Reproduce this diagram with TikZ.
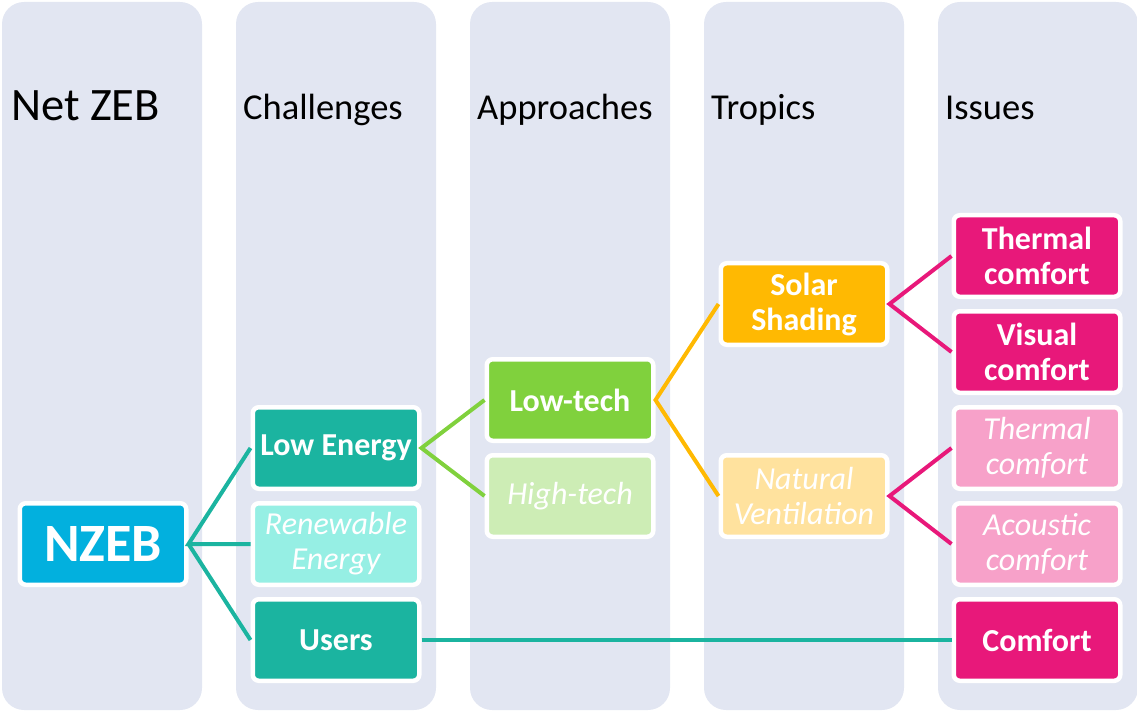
\documentclass[tikz,border=0pt]{standalone}
\usepackage{fontspec}
\setmainfont{Carlito}
\usepackage{tikz}
\usetikzlibrary{positioning,calc}

\definecolor{colbg}{RGB}{226,230,242}
\definecolor{nzebblue}{RGB}{2,176,222}
\definecolor{teal1}{RGB}{27,180,160}
\definecolor{teal2}{RGB}{150,239,228}
\definecolor{green1}{RGB}{128,209,61}
\definecolor{green2}{RGB}{205,237,181}
\definecolor{amber1}{RGB}{255,185,2}
\definecolor{amber2}{RGB}{255,226,158}
\definecolor{pink1}{RGB}{232,24,122}
\definecolor{pink2}{RGB}{247,161,201}

\begin{document}
\begin{tikzpicture}[x=1pt, y=-1pt,
    box/.style={draw=white, line width=4.5pt, rounded corners=6pt, minimum width=166.5pt,
        minimum height=81.5pt, inner sep=1pt, text=white, align=center,
        font=\fontsize{32}{35}\selectfont\bfseries},
    faint/.style={box, font=\fontsize{32}{35}\selectfont\itshape},
    head/.style={anchor=base west, inner sep=0pt, font=\fontsize{36.5}{40}\selectfont},
    link/.style={line width=4pt}
]
    \useasboundingbox (0,0) rectangle (1137,711);

    % Columns
    \foreach \i in {0,...,4}
        \fill[colbg, rounded corners=22pt] ({2+234*\i},2) rectangle ({202+234*\i},710);

    \node [head, font=\fontsize{46.5}{50}\selectfont] (hnet) at (11,121) {Net ZEB};
    \node [head] (hchal) at (243,120) {Challenges};
    \node [head] (happ) at (477,120) {Approaches};
    \node [head] (htrop) at (711,120) {Tropics};
    \node [head] (hiss) at (945,120) {Issues};

    % Boxes
    \node [box, fill=nzebblue, font=\fontsize{54}{58}\selectfont\bfseries] (nzeb) at (103,544) {NZEB};

    \node [box, fill=teal1] (lowen) at (336,448) {Low Energy};
    \node [faint, fill=teal2] (renew) at (336,544) {Renewable\\Energy};
    \node [box, fill=teal1] (users) at (336,640) {Users};

    \node [box, fill=green1] (lowtech) at (570,400) {Low-tech};
    \node [faint, fill=green2] (hightech) at (570,496) {High-tech};

    \node [box, fill=amber1] (solar) at (804,304) {Solar\\Shading};
    \node [faint, fill=amber2] (natvent) at (804,496) {Natural\\Ventilation};

    \node [box, fill=pink1] (therm) at (1037,256) {Thermal\\comfort};
    \node [box, fill=pink1] (visual) at (1037,352) {Visual\\comfort};
    \node [faint, fill=pink2] (therm2) at (1037,448) {Thermal\\comfort};
    \node [faint, fill=pink2] (acoust) at (1037,544) {Acoustic\\comfort};
    \node [box, fill=pink1] (comfort) at (1037,640) {Comfort};

    % Links
    \draw [link, teal1] (lowen.west) -- (nzeb.east) -- (renew.west);
    \draw [link, teal1] (nzeb.east) -- (users.west);
    \draw [link, teal1] (users.east) -- (comfort.west);
    \draw [link, green1] (lowtech.west) -- (lowen.east) -- (hightech.west);
    \draw [link, amber1] (solar.west) -- (lowtech.east) -- (natvent.west);
    \draw [link, pink1] (therm.west) -- (solar.east) -- (visual.west);
    \draw [link, pink1] (therm2.west) -- (natvent.east) -- (acoust.west);
\end{tikzpicture}
\end{document}
